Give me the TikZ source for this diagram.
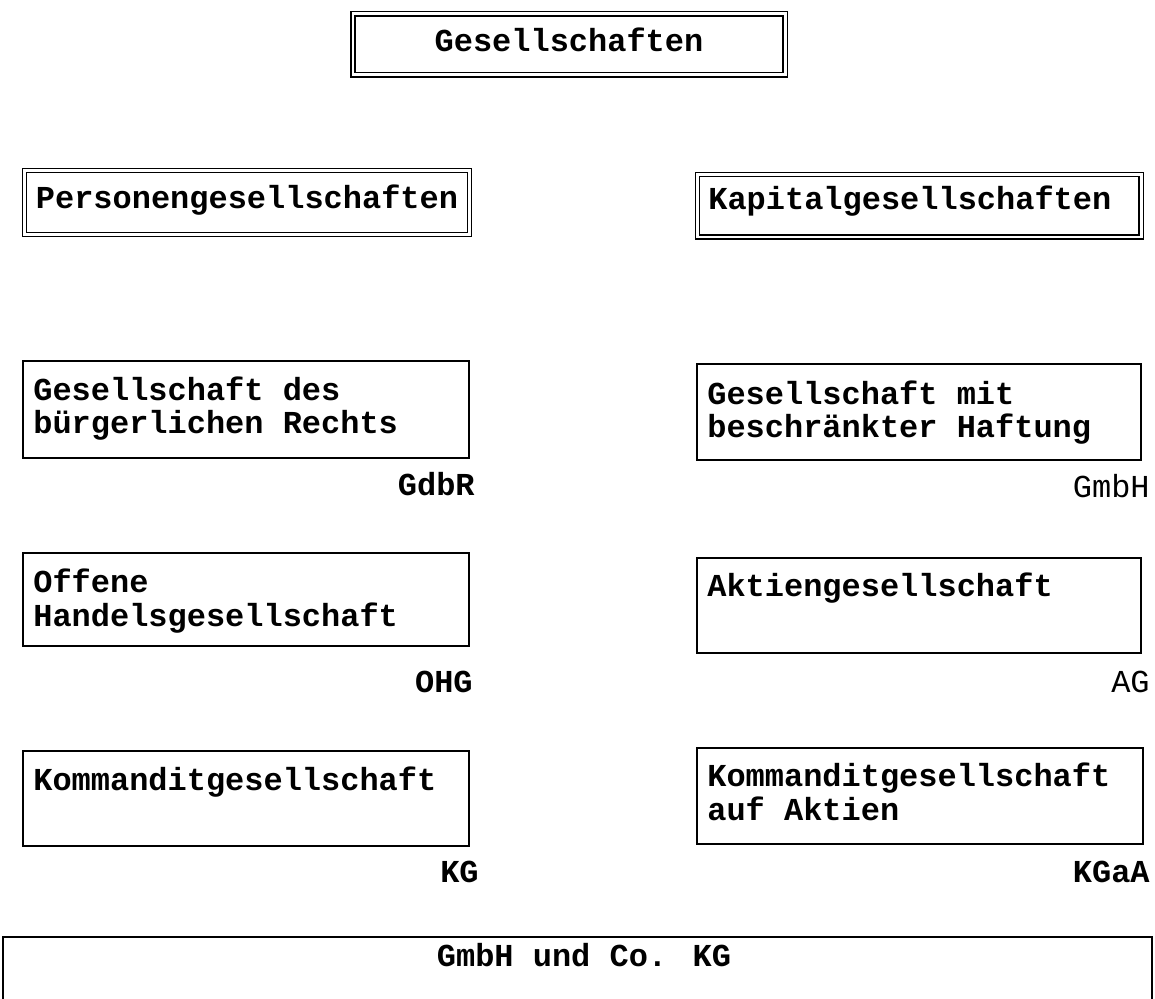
\documentclass[tikz,border=0pt]{standalone}
\usepackage{fontspec}
\setmainfont{Liberation Mono}

\begin{document}
\begin{tikzpicture}[x=0.02cm,y=-0.02cm,
    sbox/.style={line width=1.1pt},
    dbox/.style={double,line width=0.75pt,double distance=1.7pt},
    boxtext/.style={font=\fontsize{18.2}{18.8}\selectfont\bfseries,inner sep=0pt,align=left,anchor=base west},
    abbr/.style={font=\fontsize{18.2}{18.8}\selectfont,inner sep=0pt,anchor=base east}]

    \useasboundingbox (0,0) rectangle (1155,999);

    \draw[dbox] (353,14) rectangle (785,75); % oben
    \node[boxtext,anchor=base] (ges) at (569,52) {Gesellschaften};

    \draw[dbox] (24.5,170.5) rectangle (469.5,234.5); % links
    \node[boxtext,anchor=base] (pers) at (247,209) {Personengesellschaften};
    \draw[dbox] (697.5,174.5) rectangle (1141,237); % rechts
    \node[boxtext] (kap) at (708,210) {Kapitalgesellschaften};

	% bei zwei Zeilen liegt base auf der zweiten Zeile
	\draw[sbox] (23,361) rectangle (469,458); % GdbR
	\node[boxtext] (gdbr) at (33,434) {Gesellschaft des\\b\"urgerlichen Rechts};
	\node[abbr,font=\fontsize{18.2}{18.8}\selectfont\bfseries] (gdbrabk) at (475,496) {GdbR};
	\draw[sbox] (697,364) rectangle (1141,460); % GmbH
	\node[boxtext] (gmbh) at (707,438) {Gesellschaft mit\\beschr\"ankter Haftung};
	\node[abbr] (gmbhabk) at (1150,498) {GmbH};

	\draw[sbox] (23,553) rectangle (469,646); % OHG
	\node[boxtext] (ohg) at (33,626) {Offene\\Handelsgesellschaft};
	\node[abbr,font=\fontsize{18.2}{18.8}\selectfont\bfseries] (ohgabk) at (473,692) {OHG};
	\draw[sbox] (697,558) rectangle (1141,653); % AG
	\node[boxtext] (ag) at (707,596) {Aktiengesellschaft};
	\node[abbr] (agabk) at (1150,692) {AG};

	\draw[sbox] (23,751) rectangle (469,846); % KG
	\node[boxtext] (kg) at (33,790) {Kommanditgesellschaft};
	\node[abbr,font=\fontsize{18.2}{18.8}\selectfont\bfseries] (kgabk) at (479,882) {KG};
	\draw[sbox] (697,748) rectangle (1143,844); % KGaA
	\node[boxtext] (kgaa) at (707,820) {Kommanditgesellschaft\\auf Aktien};
	\node[abbr,font=\fontsize{18.2}{18.8}\selectfont\bfseries] (kgaaabk) at (1150,882) {KGaA};

	\draw[sbox] (3,937) rectangle (1152,1020); % unten
	\node[boxtext,anchor=base] (cokg) at (584,966) {GmbH und Co. KG};

\end{tikzpicture}
\end{document}
